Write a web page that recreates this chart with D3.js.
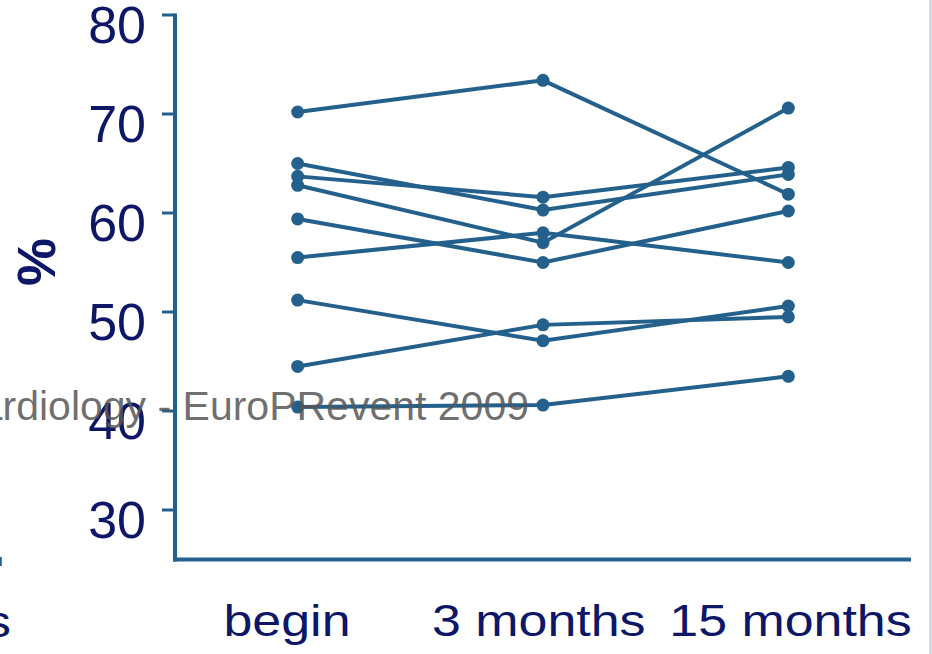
<!DOCTYPE html>
<html>
<head>
<meta charset="utf-8">
<script src="https://cdn.jsdelivr.net/npm/d3@7"></script>
<style>
  html, body { margin: 0; padding: 0; background: #fff; }
  svg { display: block; }
  text { font-family: "Liberation Sans", Arial, sans-serif; }
</style>
</head>
<body>
<svg id="chart" width="932" height="654"></svg>
<script>
// ---- data ----
const categories = ["begin", "3 months", "15 months"];
const yTicks = [30, 40, 50, 60, 70, 80];
const subject1 = [70.2, 73.4, 61.9];
const subject2 = [65.0, 60.3, 63.9];
const subject3 = [63.7, 61.6, 64.6];
const subject4 = [62.8, 57.0, 70.6];
const subject5 = [59.4, 55.0, 60.2];
const subject6 = [55.5, 58.0, 55.0];
const subject7 = [51.2, 47.1, 50.6];
const subject8 = [44.5, 48.7, 49.5];
const subject9 = [40.4, 40.6, 43.5];
const series = [subject1, subject2, subject3, subject4, subject5, subject6, subject7, subject8, subject9];
const yLabel = "%";
const watermark = "Cardiology - EuroPRevent 2009";

// ---- styles ----
const lineColor = "#24608c";
const textColor = "#0d1667";

const svg = d3.select("#chart");

const x = d3.scalePoint().domain(categories).range([175, 911]).padding(0.5);
const xLabel = d3.scalePoint().domain(categories).range([287, 790.5]).padding(0);
const y = d3.scaleLinear().domain([25, 80]).range([559.5, 15]);

// right border strip
svg.append("line")
  .attr("x1", 930.5).attr("x2", 930.5).attr("y1", 0).attr("y2", 654)
  .attr("stroke", "#cddcec").attr("stroke-width", 3);

// fragment of neighbouring chart at bottom-left
svg.append("line")
  .attr("x1", 0.8).attr("x2", 0.8).attr("y1", 557).attr("y2", 566)
  .attr("stroke", lineColor).attr("stroke-width", 2);
svg.append("text")
  .attr("transform", "translate(11,637) scale(1.18,1)")
  .attr("text-anchor", "end")
  .attr("font-size", 44)
  .attr("fill", textColor)
  .text("s");

// y ticks
const yt = svg.append("g");
yt.selectAll("line").data(yTicks).join("line")
  .attr("x1", 162).attr("x2", 175)
  .attr("y1", d => y(d)).attr("y2", d => y(d))
  .attr("stroke", lineColor).attr("stroke-width", 3);
yt.selectAll("text").data(yTicks).join("text")
  .attr("x", 146).attr("y", d => y(d)).attr("dy", 28)
  .attr("text-anchor", "end")
  .attr("font-size", 52)
  .attr("fill", textColor)
  .text(d => d);

// axes lines
svg.append("line")
  .attr("x1", 175).attr("x2", 175).attr("y1", y(80) - 1.5).attr("y2", y(25) + 2)
  .attr("stroke", lineColor).attr("stroke-width", 4);
svg.append("line")
  .attr("x1", 173).attr("x2", 911).attr("y1", y(25)).attr("y2", y(25))
  .attr("stroke", lineColor).attr("stroke-width", 4);

// x labels
svg.append("g").selectAll("text").data(categories).join("text")
  .attr("transform", d => `translate(${xLabel(d)},636) scale(1.18,1)`)
  .attr("text-anchor", "middle")
  .attr("font-size", 44)
  .attr("fill", textColor)
  .text(d => d);

// y axis title
svg.append("text")
  .attr("transform", "translate(55,262) rotate(-90)")
  .attr("text-anchor", "middle")
  .attr("font-size", 54)
  .attr("font-weight", "bold")
  .attr("fill", textColor)
  .text(yLabel);

// data lines
const line = d3.line().x((d, i) => x(categories[i])).y(d => y(d));
const g = svg.append("g");
g.selectAll("path").data(series).join("path")
  .attr("d", line)
  .attr("fill", "none")
  .attr("stroke", lineColor)
  .attr("stroke-width", 4);
series.forEach(s => {
  g.append("g").selectAll("circle").data(s).join("circle")
    .attr("cx", (d, i) => x(categories[i]))
    .attr("cy", d => y(d))
    .attr("r", 6.5)
    .attr("fill", lineColor);
});

// watermark
svg.append("text")
  .attr("x", 529).attr("y", 420)
  .attr("text-anchor", "end")
  .attr("font-size", 41)
  .attr("fill", "#555")
  .attr("fill-opacity", 0.85)
  .text(watermark);
</script>
</body>
</html>
